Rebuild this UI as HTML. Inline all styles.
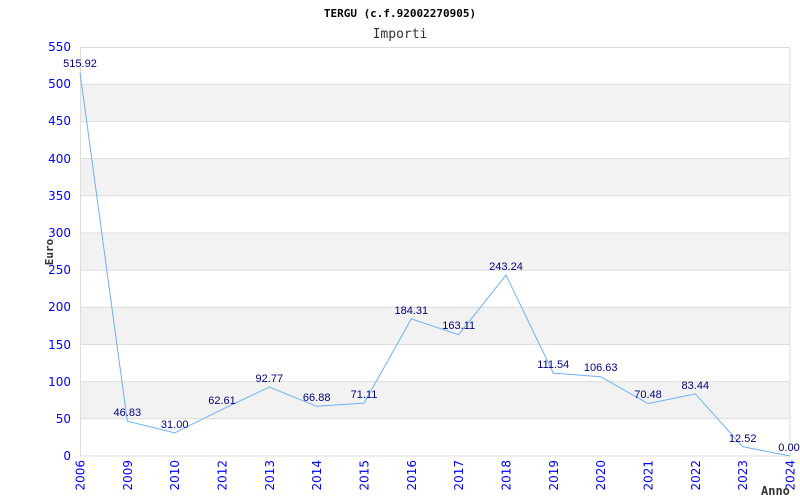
<!DOCTYPE html><html><head><style>body{margin:0;background:#fff}svg{display:block}text{font-family:"DejaVu Sans",sans-serif}.m{font-family:"DejaVu Sans Mono","Liberation Mono",monospace}.l{font-family:"Liberation Sans",Arial,sans-serif}</style></head><body>
<svg width="800" height="500" xmlns="http://www.w3.org/2000/svg">
<rect width="800" height="500" fill="#fff"/>
<g fill="#f2f2f2">
<rect x="80" y="84.2" width="710" height="37.2"/><rect x="80" y="158.6" width="710" height="37.2"/><rect x="80" y="233" width="710" height="37.2"/><rect x="80" y="307.3" width="710" height="37.2"/><rect x="80" y="381.6" width="710" height="37.2"/>
</g>
<g stroke="#ddd" stroke-width="1">
<line x1="80" x2="790" y1="84.2" y2="84.2"/><line x1="80" x2="790" y1="121.4" y2="121.4"/><line x1="80" x2="790" y1="158.6" y2="158.6"/><line x1="80" x2="790" y1="195.8" y2="195.8"/><line x1="80" x2="790" y1="233" y2="233"/><line x1="80" x2="790" y1="270.2" y2="270.2"/><line x1="80" x2="790" y1="307.3" y2="307.3"/><line x1="80" x2="790" y1="344.5" y2="344.5"/><line x1="80" x2="790" y1="381.6" y2="381.6"/><line x1="80" x2="790" y1="418.8" y2="418.8"/>
<rect x="80.5" y="47.5" width="709.5" height="408.5" fill="none"/>
</g>
<polyline fill="none" stroke="#6fb1f5" stroke-width="1" points="80,72.3 127.3,421.2 174.7,432.9 222,409.4 269.3,387 316.7,406.3 364,403.1 411.3,318.9 458.7,334.7 506,275.1 553.3,373.1 600.7,376.7 648,403.6 695.3,393.9 742.7,446.7 790,456"/>
<g font-size="11" fill="#000080" text-anchor="middle" class="l">
<text class="l" x="80" y="67">515.92</text><text class="l" x="127.3" y="416">46.83</text><text class="l" x="174.7" y="428">31.00</text><text class="l" x="222" y="404">62.61</text><text class="l" x="269.3" y="382">92.77</text><text class="l" x="316.7" y="401">66.88</text><text class="l" x="364" y="398">71.11</text><text class="l" x="411.3" y="314">184.31</text><text class="l" x="458.7" y="329">163.11</text><text class="l" x="506" y="270">243.24</text><text class="l" x="553.3" y="368">111.54</text><text class="l" x="600.7" y="371">106.63</text><text class="l" x="648" y="398">70.48</text><text class="l" x="695.3" y="389">83.44</text><text class="l" x="742.7" y="442">12.52</text><text class="l" x="789" y="451">0.00</text>
</g>
<g font-size="12" fill="#0000ff" text-anchor="end">
<text x="71" y="51">550</text><text x="71" y="88">500</text><text x="71" y="125">450</text><text x="71" y="163">400</text><text x="71" y="200">350</text><text x="71" y="237">300</text><text x="71" y="274">250</text><text x="71" y="311">200</text><text x="71" y="349">150</text><text x="71" y="386">100</text><text x="71" y="423">50</text><text x="71" y="460">0</text>
</g>
<g font-size="12" fill="#0000ff" text-anchor="end">
<text transform="translate(84.5,460) rotate(-90)">2006</text><text transform="translate(131.8,460) rotate(-90)">2009</text><text transform="translate(179.2,460) rotate(-90)">2010</text><text transform="translate(226.5,460) rotate(-90)">2012</text><text transform="translate(273.8,460) rotate(-90)">2013</text><text transform="translate(321.2,460) rotate(-90)">2014</text><text transform="translate(368.5,460) rotate(-90)">2015</text><text transform="translate(415.8,460) rotate(-90)">2016</text><text transform="translate(463.2,460) rotate(-90)">2017</text><text transform="translate(510.5,460) rotate(-90)">2018</text><text transform="translate(557.8,460) rotate(-90)">2019</text><text transform="translate(605.2,460) rotate(-90)">2020</text><text transform="translate(652.5,460) rotate(-90)">2021</text><text transform="translate(699.8,460) rotate(-90)">2022</text><text transform="translate(747.2,460) rotate(-90)">2023</text><text transform="translate(794.5,460) rotate(-90)">2024</text>
</g>
<text class="m" x="400" y="17" font-size="11" font-weight="bold" text-anchor="middle">TERGU (c.f.92002270905)</text>
<text class="m" x="400" y="38" font-size="13" text-anchor="middle" fill="#333">Importi</text>
<text class="m" transform="translate(53,252) rotate(-90)" font-size="11" font-weight="bold" text-anchor="middle" fill="#333">Euro</text>
<text class="m" x="761" y="495" font-size="12" font-weight="bold" fill="#333">Anno</text>
</svg></body></html>
